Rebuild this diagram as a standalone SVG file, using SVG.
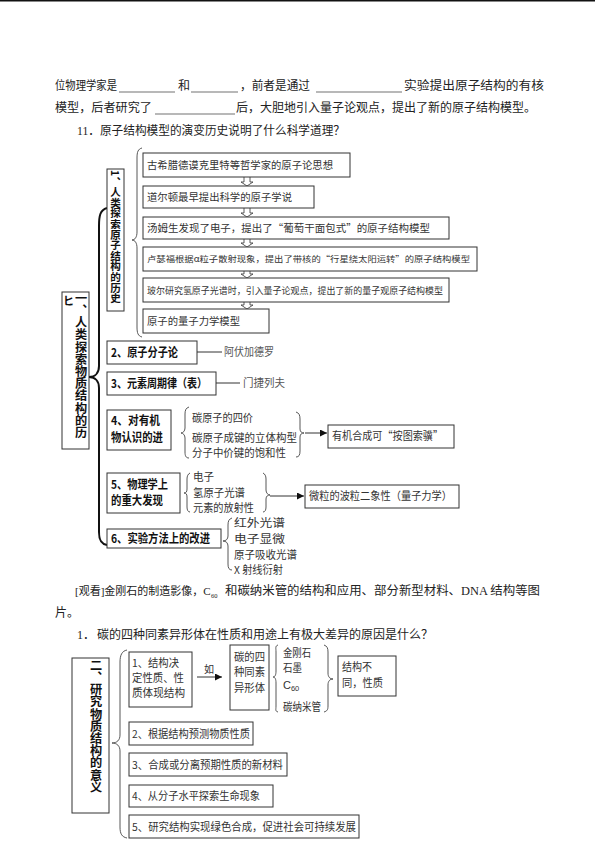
<svg xmlns="http://www.w3.org/2000/svg" width="595" height="841" viewBox="0 0 595 841">
<defs>
<style>
.t{font-family:"Liberation Serif","Noto Sans CJK SC",serif;fill:#222;font-size:12px}
.s{font-family:"Noto Sans CJK SC",sans-serif;fill:#333;font-size:10.5px}
.h{font-family:"Noto Sans CJK SC",sans-serif;fill:#111;font-size:12px;font-weight:700}
.vt{font-family:"Noto Sans CJK SC",sans-serif;fill:#111;font-weight:700;writing-mode:vertical-rl}
.box{fill:#fff;stroke:#333;stroke-width:1}
.br{fill:none;stroke:#444;stroke-width:0.9}
.bk{fill:none;stroke:#111;stroke-width:2}
.ln{fill:none;stroke:#333;stroke-width:1}
.ul{stroke:#333;stroke-width:0.7}
.da{fill:#fff;stroke:#333;stroke-width:0.8}
</style>
<marker id="ah" viewBox="0 0 10 10" refX="10" refY="5" markerWidth="7" markerHeight="7" orient="auto" markerUnits="userSpaceOnUse">
<path d="M0,0 L10,5 L0,10 z" fill="#111"/>
</marker>
</defs>
<rect x="0" y="0" width="595" height="1.5" fill="#111"/>

<g id="para">
<text class="t" x="55" y="90" textLength="62" lengthAdjust="spacingAndGlyphs">位物理学家是</text>
<line class="ul" x1="119" y1="92" x2="175" y2="92"/>
<text class="t" x="178" y="90">和</text>
<line class="ul" x1="191" y1="92" x2="238" y2="92"/>
<text class="t" x="240" y="90" textLength="70" lengthAdjust="spacingAndGlyphs">，前者是通过</text>
<line class="ul" x1="316" y1="92" x2="402" y2="92"/>
<text class="t" x="404" y="90" textLength="140" lengthAdjust="spacingAndGlyphs">实验提出原子结构的有核</text>
<text class="t" x="55" y="112" textLength="97" lengthAdjust="spacingAndGlyphs">模型，后者研究了</text>
<line class="ul" x1="155" y1="114" x2="235" y2="114"/>
<text class="t" x="236" y="112" textLength="300" lengthAdjust="spacingAndGlyphs">后，大胆地引入量子论观点，提出了新的原子结构模型。</text>
<text class="t" x="77" y="135" textLength="268" lengthAdjust="spacingAndGlyphs">11．原子结构模型的演变历史说明了什么科学道理？</text>
</g>

<g id="connectors">
<path class="bk" d="M107,208 C100,210 99,216 99,226 L99,366 C99,373 95,377 89,377 C95,377 99,381 99,388 L99,532 C99,540 101,544 107,545"/>
<path class="br" d="M142,148 C138,149 137,152 137,158 L137,232 C137,237 135,240 132,240 C135,240 137,243 137,248 L137,327 C137,333 138,336 142,337"/>
<path class="da" d="M244,177 V182 H241 L247,186 L253,182 H250 V177"/>
<path class="da" d="M244,208 V213 H241 L247,217 L253,213 H250 V208"/>
<path class="da" d="M244,239 V243 H241 L247,247 L253,243 H250 V239"/>
<path class="da" d="M244,271 V274 H241 L247,278 L253,274 H250 V271"/>
<path class="da" d="M244,302 V305 H241 L247,309 L253,305 H250 V302"/>
<line class="ln" x1="197" y1="352" x2="222" y2="352"/>
<line class="ln" x1="216" y1="383" x2="240" y2="383"/>
<path class="br" d="M189,407 C186,408 185,410 185,414 L185,428 C185,431 183,433 181,433 C183,433 185,435 185,438 L185,452 C185,456 186,458 189,458"/>
<path class="br" d="M296,412 C299,413 300,415 300,419 L300,429 C300,432 302,433 304,433 C302,433 300,434 300,437 L300,451 C300,455 299,457 296,457"/>
<line class="ln" x1="305" y1="433" x2="327" y2="433" marker-end="url(#ah)"/>
<path class="br" d="M190,473 C188,474 187,476 187,479 L187,489 C187,492 186,493 184,493 C186,493 187,494 187,497 L187,507 C187,510 188,512 190,512"/>
<path class="br" d="M263,473 C265,474 266,476 266,479 L266,490 C266,493 268,495 270,495 C268,495 266,496 266,499 L266,507 C266,510 265,512 263,512"/>
<line class="ln" x1="270" y1="496" x2="304" y2="496" marker-end="url(#ah)"/>
<path class="br" d="M232,518 C229,519 228,521 228,525 L228,536 C228,539 226,541 223,541 C226,541 228,543 228,546 L228,564 C228,568 229,570 232,570"/>
<path class="br" d="M127,650 C122,651 120,655 120,662 L120,735 C120,740 117,743 112,743 C117,743 120,746 120,751 L120,827 C120,834 122,837 127,838"/>
<line class="ln" x1="197" y1="677" x2="222" y2="677" marker-end="url(#ah)"/>
<path class="br" d="M278,645 C275,646 276,648 276,652 L276,671 C276,675 275,677 273,677 C275,677 276,679 276,683 L276,706 C276,710 275,711 278,712"/>
<path class="br" d="M324,645 C327,646 328,648 328,652 L328,673 C328,677 330,679 333,679 C330,679 328,681 328,685 L328,706 C328,710 327,711 324,712"/>
</g>

<g id="n-root1">
<rect class="box" x="62" y="292" width="27" height="157"/>
<text class="vt" x="81" y="292" style="font-size:12.2px">一、人类探索物质结构的历</text>
<text class="h" x="63" y="305" style="font-size:11px">ヒ</text>
</g>

<g id="n-hist">
<rect class="box" x="107" y="169" width="17" height="142"/>
<text class="vt" x="115.5" y="170" style="font-size:10.6px">1、人类探索原子结构的历史</text>
</g>

<g id="n-h1"><rect class="box" x="143" y="153" width="207" height="24"/>
<text class="s" x="147" y="169" textLength="186" lengthAdjust="spacingAndGlyphs">古希腊德谟克里特等哲学家的原子论思想</text></g>
<g id="n-h2"><rect class="box" x="143" y="186" width="171" height="22"/>
<text class="s" x="147" y="201" textLength="145" lengthAdjust="spacingAndGlyphs">道尔顿最早提出科学的原子学说</text></g>
<g id="n-h3"><rect class="box" x="143" y="217" width="306" height="22"/>
<text class="s" x="147" y="232" textLength="283" lengthAdjust="spacingAndGlyphs">汤姆生发现了电子，提出了“葡萄干面包式”的原子结构模型</text></g>
<g id="n-h4"><rect class="box" x="143" y="247" width="334" height="24"/>
<text class="s" x="147" y="262" style="font-size:8.5px" textLength="323" lengthAdjust="spacingAndGlyphs">卢瑟福根据α粒子散射现象，提出了带核的“行星绕太阳运转”的原子结构模型</text></g>
<g id="n-h5"><rect class="box" x="143" y="278" width="306" height="24"/>
<text class="s" x="147" y="293.5" style="font-size:9px" textLength="296" lengthAdjust="spacingAndGlyphs">玻尔研究氢原子光谱时，引入量子论观点，提出了新的量子观原子结构模型</text></g>
<g id="n-h6"><rect class="box" x="143" y="309" width="126" height="24"/>
<text class="s" x="147" y="325" textLength="93" lengthAdjust="spacingAndGlyphs">原子的量子力学模型</text></g>

<g id="n-2"><rect class="box" x="107" y="341" width="90" height="23"/>
<text class="h" x="111" y="356.5" textLength="67" lengthAdjust="spacingAndGlyphs">2、原子分子论</text>
<text class="s" x="224" y="356" style="font-size:11px;fill:#555" textLength="50" lengthAdjust="spacingAndGlyphs">阿伏加德罗</text></g>

<g id="n-3"><rect class="box" x="107" y="372" width="109" height="23"/>
<text class="h" x="111" y="387.5" textLength="96" lengthAdjust="spacingAndGlyphs">3、元素周期律（表）</text>
<text class="s" x="243" y="387" style="font-size:11px;fill:#555" textLength="42" lengthAdjust="spacingAndGlyphs">门捷列夫</text></g>

<g id="n-4"><rect class="box" x="107" y="410" width="64" height="40"/>
<text class="h" x="111" y="425" textLength="49" lengthAdjust="spacingAndGlyphs">4、对有机</text>
<text class="h" x="111" y="442" textLength="52" lengthAdjust="spacingAndGlyphs">物认识的进</text>
<text class="s" x="192" y="422" style="font-size:11px" textLength="61" lengthAdjust="spacingAndGlyphs">碳原子的四价</text>
<text class="s" x="192" y="442" style="font-size:11px" textLength="105" lengthAdjust="spacingAndGlyphs">碳原子成键的立体构型</text>
<text class="s" x="192" y="457" style="font-size:11px" textLength="94" lengthAdjust="spacingAndGlyphs">分子中价键的饱和性</text></g>
<g id="n-4r"><rect class="box" x="328" y="425" width="126" height="23"/>
<text class="s" x="332" y="440" style="font-size:11px" textLength="111" lengthAdjust="spacingAndGlyphs">有机合成可“按图索骥”</text></g>

<g id="n-5"><rect class="box" x="107" y="473" width="73" height="40"/>
<text class="h" x="111" y="489" textLength="57" lengthAdjust="spacingAndGlyphs">5、物理学上</text>
<text class="h" x="111" y="505" textLength="52" lengthAdjust="spacingAndGlyphs">的重大发现</text>
<text class="s" x="193" y="481" style="font-size:11px" textLength="21" lengthAdjust="spacingAndGlyphs">电子</text>
<text class="s" x="193" y="497" style="font-size:11px" textLength="52" lengthAdjust="spacingAndGlyphs">氢原子光谱</text>
<text class="s" x="193" y="512" style="font-size:11px" textLength="61" lengthAdjust="spacingAndGlyphs">元素的放射性</text></g>
<g id="n-5r"><rect class="box" x="305" y="485" width="154" height="23"/>
<text class="s" x="309" y="500" style="font-size:11px" textLength="143" lengthAdjust="spacingAndGlyphs">微粒的波粒二象性（量子力学）</text></g>

<g id="n-6"><rect class="box" x="107" y="529" width="114" height="19"/>
<text class="h" x="111" y="543" textLength="99" lengthAdjust="spacingAndGlyphs">6、实验方法上的改进</text>
<text class="s" x="234" y="527" style="font-size:11px" textLength="51" lengthAdjust="spacingAndGlyphs">红外光谱</text>
<text class="s" x="234" y="543" style="font-size:11px" textLength="51" lengthAdjust="spacingAndGlyphs">电子显微</text>
<text class="s" x="234" y="559" style="font-size:11px" textLength="63" lengthAdjust="spacingAndGlyphs">原子吸收光谱</text>
<text class="s" x="234" y="574" style="font-size:11px" textLength="49" lengthAdjust="spacingAndGlyphs">X 射线衍射</text></g>

<g id="para2">
<text class="t" x="75" y="595" style="font-size:11px">[观看]金刚石的制造影像，C</text>
<text class="t" x="211" y="598" style="font-size:6.5px">60</text>
<text class="t" x="225" y="595" textLength="315" lengthAdjust="spacingAndGlyphs">和碳纳米管的结构和应用、部分新型材料、DNA 结构等图</text>
<text class="t" x="55" y="617">片。</text>
<text class="t" x="77" y="639">1．</text>
<text class="t" x="97" y="639" textLength="336" lengthAdjust="spacingAndGlyphs">碳的四种同素异形体在性质和用途上有极大差异的原因是什么？</text>
</g>

<g id="n-root2">
<rect class="box" x="72" y="658" width="37" height="155"/>
<text class="vt" x="96" y="659" style="font-size:12.2px">二、研究物质结构的意义</text>
</g>

<g id="n-s1"><rect class="box" x="129" y="652" width="63" height="55"/>
<text class="s" x="132" y="667" style="font-size:11px" textLength="47" lengthAdjust="spacingAndGlyphs">1、结构决</text>
<text class="s" x="132" y="682" style="font-size:11px" textLength="52" lengthAdjust="spacingAndGlyphs">定性质、性</text>
<text class="s" x="132" y="697" style="font-size:11px" textLength="53" lengthAdjust="spacingAndGlyphs">质体现结构</text>
<text class="s" x="204" y="673" style="font-size:10px">如</text></g>
<g id="n-allo"><rect class="box" x="230" y="645" width="39" height="65"/>
<text class="s" x="234" y="661" style="font-size:11px" textLength="31" lengthAdjust="spacingAndGlyphs">碳的四</text>
<text class="s" x="234" y="676" style="font-size:11px" textLength="31" lengthAdjust="spacingAndGlyphs">种同素</text>
<text class="s" x="234" y="692" style="font-size:11px" textLength="31" lengthAdjust="spacingAndGlyphs">异形体</text>
<text class="s" x="283" y="657" style="font-size:11px" textLength="28" lengthAdjust="spacingAndGlyphs">金刚石</text>
<text class="s" x="283" y="672" style="font-size:11px" textLength="19" lengthAdjust="spacingAndGlyphs">石墨</text>
<text x="283" y="689" style="font-family:'Liberation Sans',sans-serif;font-size:11px;fill:#333">C<tspan style="font-size:7.5px" dy="2">60</tspan></text>
<text class="s" x="283" y="711" style="font-size:11px" textLength="38" lengthAdjust="spacingAndGlyphs">碳纳米管</text></g>
<g id="n-diff"><rect class="box" x="338" y="656" width="58" height="40"/>
<text class="s" x="342" y="671" style="font-size:11px" textLength="30" lengthAdjust="spacingAndGlyphs">结构不</text>
<text class="s" x="342" y="687" style="font-size:11px" textLength="41" lengthAdjust="spacingAndGlyphs">同，性质</text></g>
<g id="n-s2"><rect class="box" x="129" y="722" width="124" height="23"/>
<text class="s" x="132" y="737.5" style="font-size:11px" textLength="118" lengthAdjust="spacingAndGlyphs">2、根据结构预测物质性质</text></g>
<g id="n-s3"><rect class="box" x="129" y="753" width="158" height="23"/>
<text class="s" x="132" y="768.5" style="font-size:11px" textLength="151" lengthAdjust="spacingAndGlyphs">3、合成或分离预期性质的新材料</text></g>
<g id="n-s4"><rect class="box" x="129" y="785" width="144" height="22"/>
<text class="s" x="132" y="800" style="font-size:11px" textLength="128" lengthAdjust="spacingAndGlyphs">4、从分子水平探索生命现象</text></g>
<g id="n-s5"><rect class="box" x="129" y="815" width="230" height="23"/>
<text class="s" x="132" y="830.5" style="font-size:11px" textLength="224" lengthAdjust="spacingAndGlyphs">5、研究结构实现绿色合成，促进社会可持续发展</text></g>
</svg>
